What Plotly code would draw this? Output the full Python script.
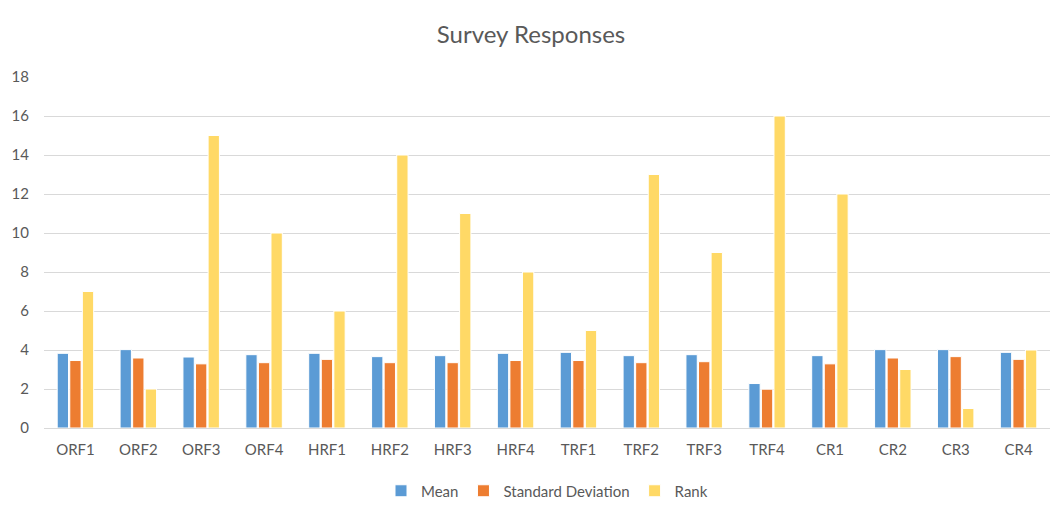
import plotly.graph_objects as go

categories = ["ORF1", "ORF2", "ORF3", "ORF4", "HRF1", "HRF2", "HRF3", "HRF4",
              "TRF1", "TRF2", "TRF3", "TRF4", "CR1", "CR2", "CR3", "CR4"]
mean = [3.83, 4.02, 3.64, 3.76, 3.83, 3.66, 3.71, 3.83,
        3.88, 3.71, 3.76, 2.28, 3.71, 4.02, 4.02, 3.88]
std_dev = [3.46, 3.59, 3.29, 3.35, 3.52, 3.35, 3.35, 3.46,
           3.46, 3.35, 3.40, 1.99, 3.29, 3.59, 3.66, 3.52]
rank = [7, 2, 15, 10, 6, 14, 11, 8, 5, 13, 9, 16, 12, 3, 1, 4]
y_ticks = [0, 2, 4, 6, 8, 10, 12, 14, 16, 18]

text_color = "#595959"
font_family = "Lato, 'Open Sans', sans-serif"

fig = go.Figure()
for name, vals, color in [("Mean", mean, "#5B9BD5"),
                          ("Standard Deviation", std_dev, "#ED7D31"),
                          ("Rank", rank, "#FFD966")]:
    fig.add_trace(go.Bar(
        x=categories, y=vals, name=name,
        marker=dict(color=color, line=dict(color="white", width=1)),
    ))

fig.update_layout(
    width=1062, height=515,
    margin=dict(l=44, r=12, t=77, b=87),
    paper_bgcolor="white", plot_bgcolor="white",
    title=dict(text="Survey Responses", x=0.5, xanchor="center",
               xref="container", yref="container",
               y=1 - 35 / 515, yanchor="middle",
               font=dict(size=24, color=text_color, family=font_family)),
    barmode="group", bargap=0.4, bargroupgap=0.1,
    font=dict(family=font_family, size=15, color=text_color),
    legend=dict(orientation="h", x=0.5, xanchor="center",
                yref="container", y=1 - 491 / 515,
                yanchor="middle", font=dict(size=15, color=text_color),
                itemwidth=30, traceorder="normal"),
    xaxis=dict(showgrid=False, showline=True, linecolor="#D9D9D9",
               linewidth=1, ticks="", tickfont=dict(size=15, color=text_color),
               ticklabelstandoff=8, automargin=False),
    yaxis=dict(range=[0, 18], tickvals=y_ticks, showgrid=True,
               gridcolor="#D9D9D9", gridwidth=1, zeroline=False,
               ticks="", tickfont=dict(size=15, color=text_color),
               ticklabelstandoff=14, automargin=False),
)

fig.write_html("out.html")
